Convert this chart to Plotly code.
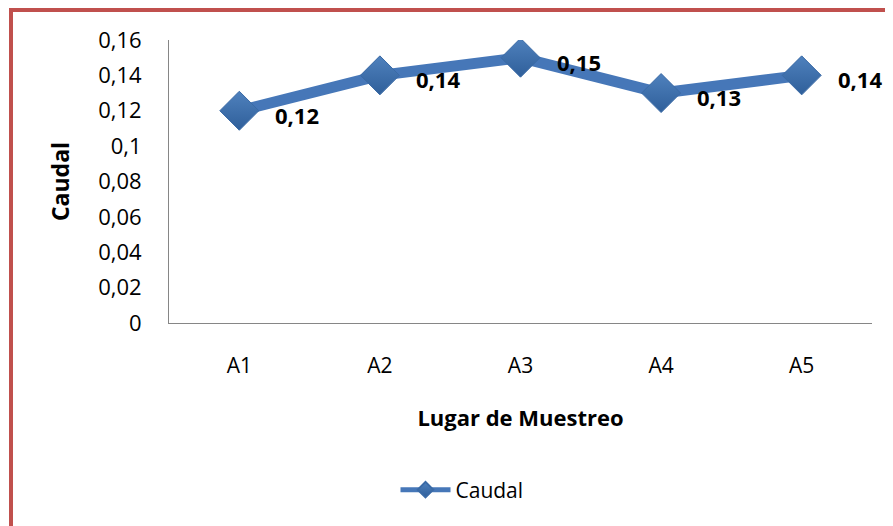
import plotly.graph_objects as go

# datos
lugares = ['A1', 'A2', 'A3', 'A4', 'A5']
caudal = [0.12, 0.14, 0.15, 0.13, 0.14]
etiquetas = ['0,12', '0,14', '0,15', '0,13', '0,14']
y_ticks = [0, 0.02, 0.04, 0.06, 0.08, 0.1, 0.12, 0.14, 0.16]
y_ticktext = ['0', '0,02', '0,04', '0,06', '0,08', '0,1', '0,12', '0,14', '0,16']

# la página html tiene un margen de 8px en el body
OFF = 8
W, H = 893, 526
L, R, T, B = 169 - OFF, 29, 40 - OFF, 211
pw, ph = W - L - R, H - T - B


def px_x(x):
    return (x - OFF - L) / pw


def px_y(y):
    return (H - B - (y - OFF)) / ph


fig = go.Figure()

fig.add_trace(go.Scatter(
    name='Caudal',
    x=lugares,
    y=caudal,
    mode='lines+markers',
    line=dict(color='#4677B8', width=11),
    marker=dict(symbol='diamond', size=30, color='#4F81BD',
                gradient=dict(type='vertical', color='#2F5F9A'),
                line=dict(color='#3A6AA6', width=1)),
))

# etiquetas de datos
for lugar, valor, txt in zip(lugares, caudal, etiquetas):
    fig.add_annotation(x=lugar, y=valor, text='<b>' + txt + '</b>',
                       showarrow=False, xanchor='left', yanchor='middle',
                       xshift=34, yshift=-4,
                       font=dict(family='Open Sans', size=22, color='black'))

fig.update_layout(
    width=W, height=H,
    margin=dict(l=L, r=R, t=T, b=B),
    paper_bgcolor='white',
    plot_bgcolor='white',
    font=dict(family='Open Sans', size=22, color='black'),
    showlegend=True,
    legend=dict(orientation='h', x=px_x(462), y=px_y(490),
                xanchor='center', yanchor='middle',
                itemsizing='constant', itemwidth=50,
                font=dict(size=21)),
    xaxis=dict(
        range=[-0.5, 4.5],
        showgrid=False, zeroline=False,
        showline=True, linecolor='#868686', linewidth=1,
        ticks='', ticklabelstandoff=24,
        tickfont=dict(size=21),
        title=dict(text='<b>Lugar de Muestreo</b>', standoff=32,
                   font=dict(size=22)),
    ),
    yaxis=dict(
        range=[0, 0.16],
        tickvals=y_ticks, ticktext=y_ticktext,
        showgrid=False, zeroline=False,
        showline=True, linecolor='#868686', linewidth=1,
        ticks='', ticklabelstandoff=22,
        tickfont=dict(size=22),
        title=dict(text='<b>Caudal</b>', standoff=22,
                   font=dict(size=23)),
    ),
    shapes=[
        dict(type='line', xref='paper', yref='paper',
             x0=px_x(11), x1=px_x(11), y0=px_y(8), y1=px_y(560),
             line=dict(color='#C0504D', width=4)),
        dict(type='line', xref='paper', yref='paper',
             x0=px_x(9), x1=px_x(920), y0=px_y(10), y1=px_y(10),
             line=dict(color='#C0504D', width=4)),
    ],
)

fig.write_html('out.html')
